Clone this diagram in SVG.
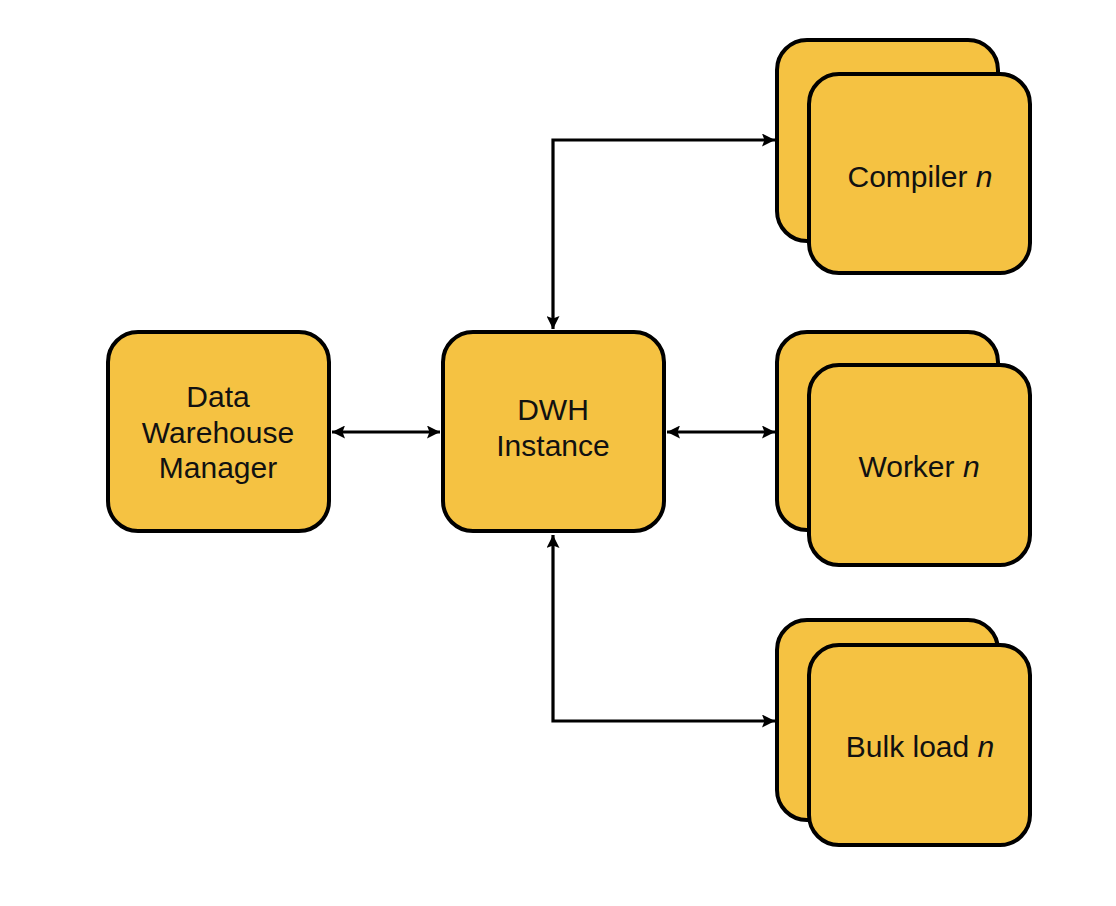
<svg xmlns="http://www.w3.org/2000/svg" width="1116" height="906" viewBox="0 0 1116 906">
<defs>
<style>
.box{fill:#F5C242;stroke:#000;stroke-width:4}
.lbl{font-family:"Liberation Sans",Arial,sans-serif;font-size:30px;fill:#111;text-anchor:middle}
.con{fill:none;stroke:#000;stroke-width:3.2}
</style>
<marker id="ah" viewBox="0 0 13 13" refX="13" refY="6.5" markerWidth="13" markerHeight="13" markerUnits="userSpaceOnUse" orient="auto-start-reverse">
<path d="M0,0 L13,6.5 L0,13 L2.5,6.5 z" fill="#000"/>
</marker>
</defs>
<rect width="1116" height="906" fill="#fff"/>
<g id="connectors">
<line class="con" x1="332" y1="432" x2="440" y2="432" marker-start="url(#ah)" marker-end="url(#ah)"/>
<line class="con" x1="667" y1="432" x2="775" y2="432" marker-start="url(#ah)" marker-end="url(#ah)"/>
<path class="con" d="M553,329 V140 H775" marker-start="url(#ah)" marker-end="url(#ah)"/>
<path class="con" d="M553,535 V721 H775" marker-start="url(#ah)" marker-end="url(#ah)"/>
</g>
<g id="dwh-manager">
<rect class="box" x="108" y="332" width="221" height="199" rx="30"/>
<text class="lbl"><tspan x="218" y="407">Data</tspan><tspan x="218" y="443">Warehouse</tspan><tspan x="218" y="478">Manager</tspan></text>
</g>
<g id="dwh-instance">
<rect class="box" x="443" y="332" width="221" height="199" rx="30"/>
<text class="lbl"><tspan x="553" y="420">DWH</tspan><tspan x="553" y="456">Instance</tspan></text>
</g>
<g id="compiler">
<rect class="box" x="777" y="40" width="221" height="201" rx="30"/>
<rect class="box" x="809" y="74" width="221" height="199" rx="30"/>
<text class="lbl" x="920" y="187">Compiler <tspan font-style="italic">n</tspan></text>
</g>
<g id="worker">
<rect class="box" x="777" y="332" width="221" height="198" rx="30"/>
<rect class="box" x="809" y="365" width="221" height="200" rx="30"/>
<text class="lbl" x="919" y="477">Worker <tspan font-style="italic">n</tspan></text>
</g>
<g id="bulk-load">
<rect class="box" x="777" y="620" width="221" height="200" rx="30"/>
<rect class="box" x="809" y="645" width="221" height="200" rx="30"/>
<text class="lbl" x="920" y="757">Bulk load <tspan font-style="italic">n</tspan></text>
</g>
</svg>
